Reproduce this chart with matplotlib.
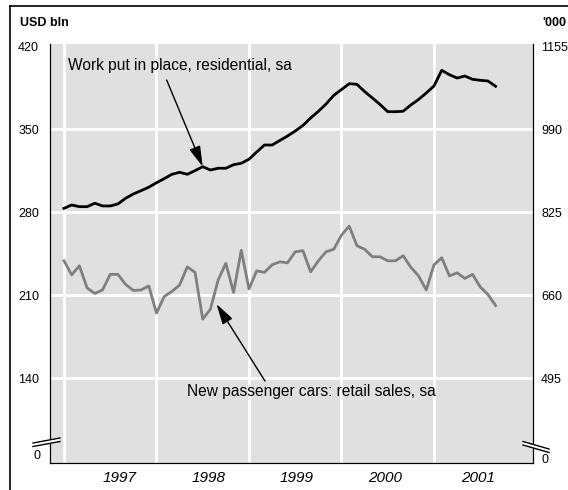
import numpy as np
import matplotlib.pyplot as plt
from matplotlib.lines import Line2D
from matplotlib.patches import Polygon

plt.rcParams['font.family'] = ['Liberation Sans', 'DejaVu Sans']

# monthly, Jan 1997 - Sep 2001
residential = [283.5, 286.3, 284.9, 284.9, 287.8, 285.5, 285.5, 287.2, 292.0, 295.6,
               298.4, 301.3, 305.1, 308.5, 312.2, 313.9, 312.2, 315.3, 318.6, 315.8,
               317.3, 317.3, 320.3, 321.5, 324.9, 331.0, 336.9, 336.9, 340.7, 344.5,
               348.7, 353.4, 359.7, 365.3, 371.5, 378.8, 383.7, 388.6, 388.1, 382.0,
               376.6, 371.1, 365.0, 365.0, 365.4, 370.7, 375.3, 380.8, 386.7, 399.9,
               396.2, 393.4, 395.1, 392.3, 391.5, 390.9, 386.4]  # USD bln
cars = [729, 701, 719, 675, 664, 671, 702, 702, 682, 670,
        671, 679, 625, 658, 668, 681, 717, 706, 613, 633,
        691, 724, 666, 750, 673, 709, 706, 721, 727, 725,
        747, 749, 707, 729, 747, 752, 780, 798, 759, 752,
        737, 737, 729, 729, 739, 716, 699, 671, 721, 735,
        699, 705, 694, 702, 677, 662, 640]  # '000
months = 1997 + np.arange(len(residential)) / 12

years = [1997, 1998, 1999, 2000, 2001]
year_label_pos = [1997.6, 1998.56, 1999.52, 2000.47, 2001.48]
left_ticks = [140, 210, 280, 350, 420]
right_ticks = [495, 660, 825, 990, 1155]

W, H = 568, 490


def px(x, y):
    return (x / W, 1 - y / H)


fig = plt.figure(figsize=(5.68, 4.90), dpi=100)
ax = fig.add_axes([50 / W, 1 - 463 / H, 482.7 / W, 419 / H])
ax.set_facecolor('#e0e0e0')
ax.set_xlim(1996.849, 2002.067)
ax.set_ylim(68.7, 422.1)

# grid
for y in left_ticks[:-1]:
    ax.axhline(y, color='white', lw=2, zorder=0)
for yr in years:
    ax.axvline(yr, color='white', lw=2, zorder=0)

ax.plot(months, residential, color='black', lw=2, zorder=3)

ax.set_yticks(left_ticks)
ax.set_yticklabels([str(v) for v in left_ticks])
ax.tick_params(axis='y', length=0, pad=8, labelsize=9)
ax.set_xticks(years)
ax.set_xticklabels([])
ax.set_xticks(year_label_pos, minor=True)
ax.set_xticklabels([str(yr) for yr in years], minor=True, style='italic', fontsize=11)
ax.tick_params(axis='x', which='both', length=0, pad=6)
ax.spines['top'].set_visible(False)

ax2 = ax.twinx()
ax2.set_ylim(327, 1160)
ax2.plot(months, cars, color='#7f7f7f', lw=2, zorder=3)
ax2.set_yticks(right_ticks)
ax2.set_yticklabels([str(v) for v in right_ticks])
ax2.tick_params(axis='y', length=0, pad=6, labelsize=9)
ax2.spines['top'].set_visible(False)

# annotations
ax.text(1997.043, 403.6, 'Work put in place, residential, sa', fontsize=11.2,
        va='center', ha='left')
ax.annotate('', xy=(months[18], residential[18]), xytext=(1998.110, 391.7),
            arrowprops=dict(arrowstyle='-|>,head_length=0.9,head_width=0.25',
                            color='black', lw=1, mutation_scale=14, shrinkA=0, shrinkB=0))
ax2.text(1998.33, 470, 'New passenger cars: retail sales, sa', fontsize=11.2,
         va='center', ha='left')
ax2.annotate('', xy=(1998.649, 643), xytext=(1999.173, 490),
             arrowprops=dict(arrowstyle='-|>,head_length=0.9,head_width=0.25',
                             color='black', lw=1, mutation_scale=14, shrinkA=0, shrinkB=0))

# units and fake zero labels
fig.text(*px(20, 23), 'USD bln', fontsize=9, fontweight='bold', va='center', ha='left')
fig.text(*px(542, 23), "'000", fontsize=9, fontweight='bold', va='center', ha='left')
fig.text(*px(41, 456), '0', fontsize=9, va='center', ha='right')
fig.text(*px(541, 460), '0', fontsize=9, va='center', ha='left')

# axis breaks
for pts in ([(33, 443), (60, 438), (60, 441.5), (33, 446.5)],
            [(523, 441.5), (549, 449), (549, 452.5), (523, 445)]):
    fig.patches.append(Polygon([px(*p) for p in pts], closed=True, facecolor='white',
                               edgecolor='none', transform=fig.transFigure, zorder=5))
    for a, b in ((pts[0], pts[1]), (pts[3], pts[2])):
        fig.lines.append(Line2D([px(*a)[0], px(*b)[0]], [px(*a)[1], px(*b)[1]],
                                color='black', lw=1, transform=fig.transFigure, zorder=6))

# outer frame
fig.lines.append(Line2D([10 / W, 1], [1 - 6 / H, 1 - 6 / H], color='black', lw=1.2,
                        transform=fig.transFigure))
fig.lines.append(Line2D([10 / W, 10 / W], [0, 1 - 6 / H], color='black', lw=1.2,
                        transform=fig.transFigure))

fig.savefig('out.png', dpi=100)
